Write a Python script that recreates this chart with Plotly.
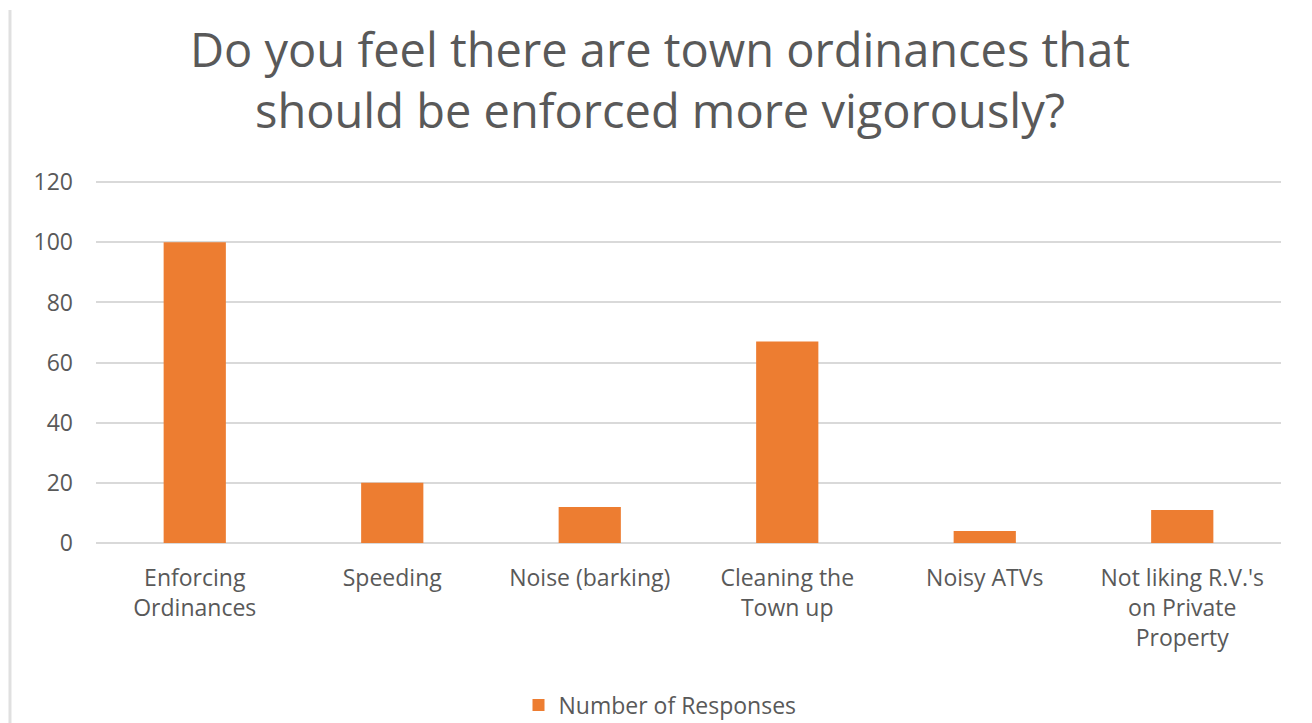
import plotly.graph_objects as go

categories = ["Enforcing<br>Ordinances", "Speeding", "Noise (barking)", "Cleaning the<br>Town up",
              "Noisy ATVs", "Not liking R.V.'s<br>on Private<br>Property"]
responses = [100, 20, 12, 67, 4, 11]
series_name = "Number of Responses"
title_text = "Do you feel there are town ordinances that<br>should be enforced more vigorously?"
y_ticks = [0, 20, 40, 60, 80, 100, 120]

FONT = "Open Sans, Liberation Sans, sans-serif"
GREY = "#595959"

fig = go.Figure()
fig.add_trace(go.Bar(
    x=categories, y=responses, name=series_name,
    marker=dict(color="#ED7D31", line=dict(width=0)),
    showlegend=True,
))

fig.update_layout(
    width=1304, height=715,
    paper_bgcolor="white", plot_bgcolor="white",
    margin=dict(l=88, r=31, t=173, b=180),
    bargap=0.685,
    title=dict(text=title_text, x=0.5, xanchor="center", xref="container",
               y=1 - 59 / 715, yanchor="middle", yref="container",
               font=dict(family=FONT, size=47, color=GREY)),
    font=dict(family=FONT, color=GREY, size=23),
    xaxis=dict(showgrid=False, showline=False, ticks="", tickfont=dict(size=23, color=GREY),
               tickangle=0, automargin=False, ticklabelstandoff=19),
    yaxis=dict(range=[0, 120.4], tickvals=y_ticks, showgrid=True, gridcolor="#d9d9d9",
               gridwidth=1.5, zeroline=True, zerolinecolor="#d9d9d9", zerolinewidth=1.5,
               showline=False, ticks="", ticklabelstandoff=22, automargin=False,
               tickfont=dict(size=23, color=GREY)),
    legend=dict(orientation="h", x=0.5, xanchor="center", xref="container",
                y=1 - 697 / 715, yanchor="middle", yref="container",
                font=dict(size=23, color=GREY), itemwidth=30),
    shapes=[dict(type="line", xref="paper", yref="paper", x0=-0.0726, x1=-0.0726,
                 y0=-0.5, y1=1 + 171 / 362, line=dict(color="#e0e0e0", width=3))],
)

fig.write_html("out.html")
